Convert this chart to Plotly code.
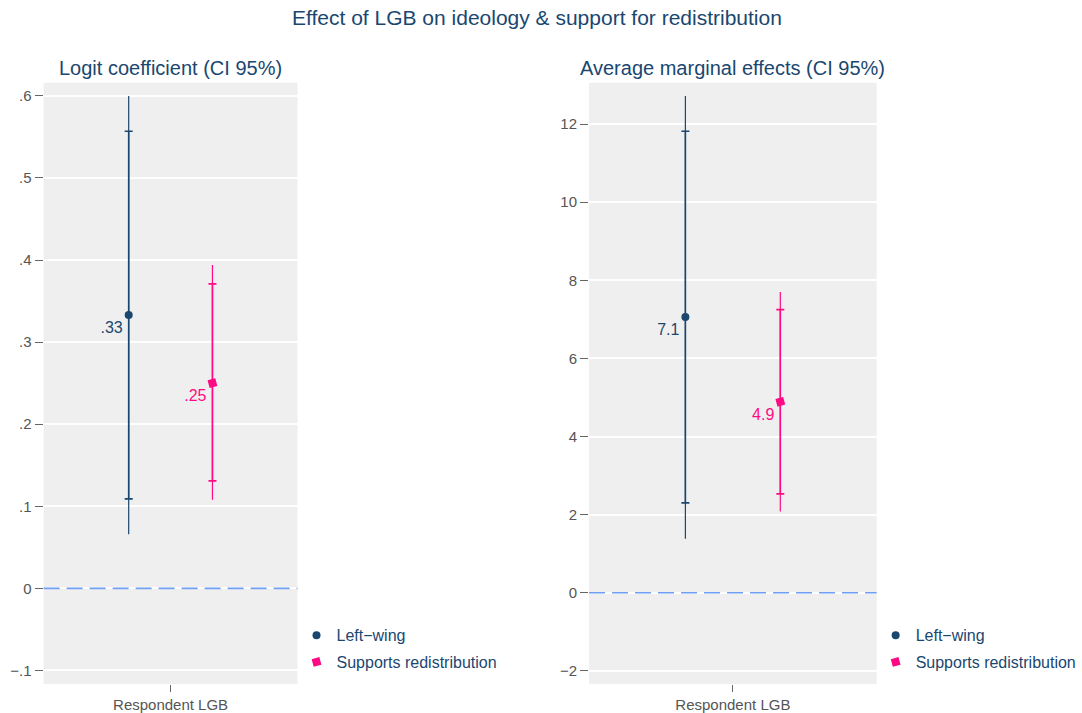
import plotly.graph_objects as go

# ---------------- data ----------------
category = ["Respondent LGB"]
series = ["Left\u2212wing", "Supports redistribution"]

logit_coef = [0.333, 0.250]
logit_ci95_low = [0.109, 0.131]
logit_ci95_high = [0.557, 0.371]
logit_outer_low = [0.066, 0.108]
logit_outer_high = [0.600, 0.394]
logit_labels = [".33", ".25"]

ame_coef = [7.06, 4.89]
ame_ci95_low = [2.30, 2.53]
ame_ci95_high = [11.82, 7.25]
ame_outer_low = [1.38, 2.08]
ame_outer_high = [12.72, 7.70]
ame_labels = ["7.1", "4.9"]

logit_ticks = [-0.1, 0, 0.1, 0.2, 0.3, 0.4, 0.5, 0.6]
logit_ticktext = ["\u2212.1", "0", ".1", ".2", ".3", ".4", ".5", ".6"]
ame_ticks = [-2, 0, 2, 4, 6, 8, 10, 12]
ame_ticktext = ["\u22122", "0", "2", "4", "6", "8", "10", "12"]

# ---------------- style ----------------
FONT = "Liberation Sans, Arial, Helvetica, sans-serif"
NAVY = "#1a476f"
PINK = "#ff0a84"
colors = [NAVY, PINK]
symbols = ["circle", "square"]
angles = [0, -15]
dodge = [-0.33, 0.33]
W, H = 1082, 713

fig = go.Figure()


def add_panel(xa, ya, coef, lo, hi, olo, ohi, labels, legend):
    for i in range(len(series)):
        xpos = [dodge[i]]
        # outer (thin, no cap) interval
        fig.add_trace(go.Scatter(
            x=xpos, y=[coef[i]], mode="markers",
            marker=dict(size=1, color="rgba(0,0,0,0)"),
            error_y=dict(type="data", symmetric=False,
                         array=[ohi[i] - coef[i]], arrayminus=[coef[i] - olo[i]],
                         width=0, thickness=1.2, color=colors[i]),
            xaxis=xa, yaxis=ya, showlegend=False, hoverinfo="skip"))
        # 95% interval with caps + point estimate
        fig.add_trace(go.Scatter(
            x=xpos, y=[coef[i]], mode="markers+text",
            name=series[i], text=[labels[i]], textposition="bottom left",
            textfont=dict(family=FONT, size=16, color=colors[i]),
            marker=dict(size=8, color=colors[i], symbol=symbols[i], angle=angles[i]),
            error_y=dict(type="data", symmetric=False,
                         array=[hi[i] - coef[i]], arrayminus=[coef[i] - lo[i]],
                         width=4, thickness=1.6, color=colors[i]),
            xaxis=xa, yaxis=ya, legend=legend, legendgroup=series[i] + legend))


add_panel("x", "y", logit_coef, logit_ci95_low, logit_ci95_high,
          logit_outer_low, logit_outer_high, logit_labels, "legend")
add_panel("x2", "y2", ame_coef, ame_ci95_low, ame_ci95_high,
          ame_outer_low, ame_outer_high, ame_labels, "legend2")

ydom = [1 - 686 / H, 1 - 83 / H]
xdom1 = [44 / W, 300 / W]
xdom2 = [594 / W, 884 / W]

xaxis_common = dict(range=[-1, 1], tickvals=[0], ticktext=category,
                    showgrid=False, zeroline=False, ticks="outside", ticklen=7,
                    tickcolor="#666666", tickwidth=1,
                    tickfont=dict(family=FONT, size=15, color="#555555"),
                    fixedrange=True)
yaxis_common = dict(showgrid=True, gridcolor="white", gridwidth=1.5, zeroline=False,
                    ticks="outside", ticklen=8, tickcolor="#666666", tickwidth=1,
                    tickfont=dict(family=FONT, size=15, color="#555555"),
                    showline=False, domain=ydom)

fig.update_layout(
    width=W, height=H,
    margin=dict(l=0, r=0, t=0, b=0),
    paper_bgcolor="white", plot_bgcolor="#efefef",
    font=dict(family=FONT, color=NAVY),
    xaxis=dict(domain=xdom1, **xaxis_common),
    xaxis2=dict(domain=xdom2, anchor="y2", **xaxis_common),
    yaxis=dict(range=[-0.1166, 0.616], tickvals=logit_ticks, ticktext=logit_ticktext,
               anchor="x", **yaxis_common),
    yaxis2=dict(range=[-2.34, 13.06], tickvals=ame_ticks, ticktext=ame_ticktext,
                anchor="x2", **yaxis_common),
    legend=dict(x=299 / W, y=1 - 620 / H, xanchor="left", yanchor="top",
                bgcolor="rgba(0,0,0,0)", font=dict(family=FONT, size=16, color=NAVY),
                tracegroupgap=3),
    legend2=dict(x=883 / W, y=1 - 620 / H, xanchor="left", yanchor="top",
                 bgcolor="rgba(0,0,0,0)", font=dict(family=FONT, size=16, color=NAVY),
                 tracegroupgap=3),
    showlegend=True,
)

# zero reference lines
for xr, yr in [("x domain", "y"), ("x2 domain", "y2")]:
    fig.add_shape(type="line", xref=xr, yref=yr, x0=0, x1=1, y0=0, y1=0,
                  line=dict(color="#6f9ff5", width=1.6, dash="16px,7px"), layer="above")

# titles
fig.add_annotation(text="Effect of LGB on ideology & support for redistribution",
                   x=0.5, y=1 - 18 / H, xref="paper", yref="paper", showarrow=False,
                   font=dict(family=FONT, size=21, color=NAVY),
                   xanchor="center", yanchor="middle")
fig.add_annotation(text="Logit coefficient (CI 95%)",
                   x=(xdom1[0] + xdom1[1]) / 2, y=1 - 68 / H, xref="paper", yref="paper",
                   showarrow=False, font=dict(family=FONT, size=20, color=NAVY),
                   xanchor="center", yanchor="middle")
fig.add_annotation(text="Average marginal effects (CI 95%)",
                   x=(xdom2[0] + xdom2[1]) / 2, y=1 - 68 / H, xref="paper", yref="paper",
                   showarrow=False, font=dict(family=FONT, size=20, color=NAVY),
                   xanchor="center", yanchor="middle")

fig.write_html("out.html", config={"displayModeBar": False},
               post_script="document.body.style.margin='0';"
                           "document.body.style.overflow='hidden';")
